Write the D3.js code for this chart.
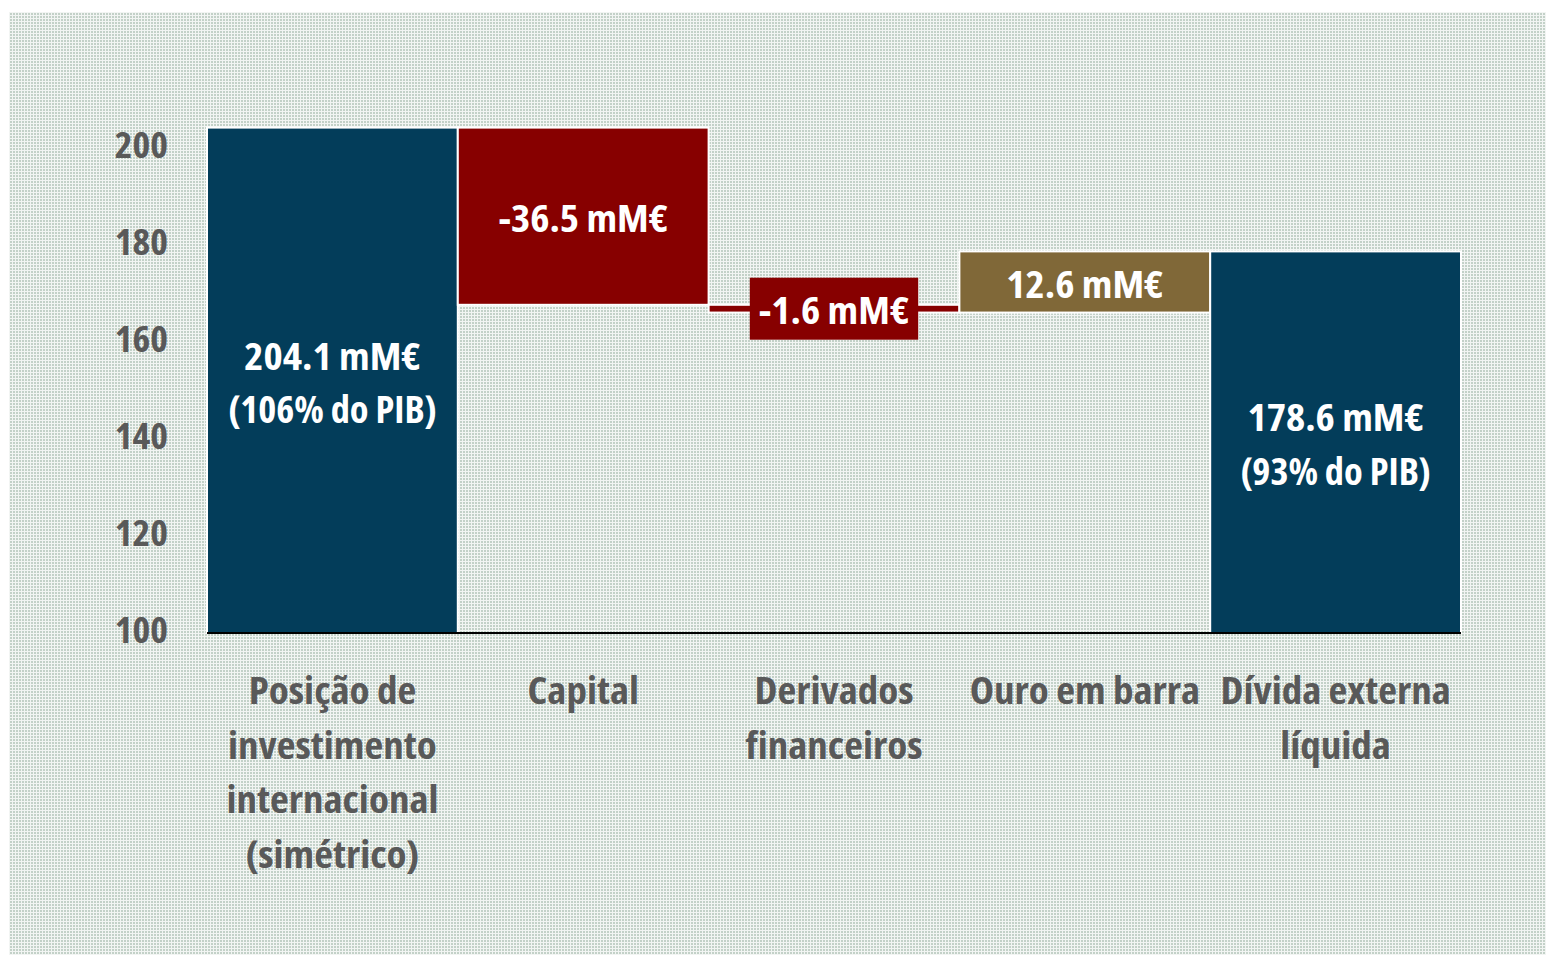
<!DOCTYPE html>
<html>
<head>
<meta charset="utf-8">
<script src="https://cdn.jsdelivr.net/npm/d3@7"></script>
<style>
  body { margin: 0; background: #fff; }
  text { font-family: "Open Sans", "Liberation Sans Narrow", sans-serif; font-weight: 700; font-stretch: 75%; }
</style>
</head>
<body>
<div class="chart"></div>
<script>
var svgWidth = 1546;
var svgHeight = 957;

// data
var categories = [
  ["Posição de", "investimento", "internacional", "(simétrico)"],
  ["Capital"],
  ["Derivados", "financeiros"],
  ["Ouro em barra"],
  ["Dívida externa", "líquida"]
];
var values = [204.1, -36.5, -1.6, 12.6, 178.6];
var kinds = ["total", "down", "down", "up", "total"];
var barLabels = [
  ["204.1 mM€", "(106% do PIB)"],
  ["-36.5 mM€"],
  ["-1.6 mM€"],
  ["12.6 mM€"],
  ["178.6 mM€", "(93% do PIB)"]
];
var yTicks = [100, 120, 140, 160, 180, 200];

var colors = { total: "#033d5a", down: "#870000", up: "#806838" };

// font is a bit wider than the installed condensed face
var sx = 1.08;

// waterfall start/end
var running = 0;
var bars = values.map(function(v, i) {
  var b;
  if (kinds[i] === "total") {
    b = { y0: 100, y1: v };
    running = v;
  } else {
    b = { y0: running, y1: running + v };
    running = running + v;
  }
  b.i = i;
  b.kind = kinds[i];
  return b;
});

var svg = d3.select(".chart").append("svg")
  .attr("width", svgWidth)
  .attr("height", svgHeight);

// background grid texture
var pat = svg.append("defs").append("pattern")
  .attr("id", "grid")
  .attr("width", 3).attr("height", 3)
  .attr("patternUnits", "userSpaceOnUse");
pat.append("rect").attr("width", 3).attr("height", 3).attr("fill", "#c3d1c8");
pat.append("rect").attr("width", 3).attr("height", 1).attr("fill", "#f2f5f3");
pat.append("rect").attr("width", 1).attr("height", 3).attr("fill", "#f2f5f3");

svg.append("rect")
  .attr("x", 9).attr("y", 12)
  .attr("width", svgWidth - 9).attr("height", 943)
  .attr("fill", "url(#grid)");

var x = d3.scaleBand()
  .domain(d3.range(categories.length))
  .range([207, 1461])
  .padding(0);

var y = d3.scaleLinear()
  .domain([100, 200])
  .range([633, 147.5]);

// y tick labels
svg.append("g").selectAll("text")
  .data(yTicks)
  .enter()
  .append("text")
  .attr("transform", d => `translate(168, ${y(d) - 2}) scale(${sx}, 1)`)
  .attr("dy", "0.35em")
  .attr("text-anchor", "end")
  .attr("fill", "#595959")
  .attr("font-size", 35)
  .text(d => d);

// bars
svg.append("g").selectAll("rect")
  .data(bars)
  .enter()
  .append("rect")
  .attr("x", d => x(d.i))
  .attr("width", x.bandwidth())
  .attr("y", d => y(Math.max(d.y0, d.y1)))
  .attr("height", d => Math.abs(y(d.y0) - y(d.y1)))
  .attr("fill", d => colors[d.kind])
  .attr("stroke", "#ffffff")
  .attr("stroke-width", 2);

// baseline
svg.append("line")
  .attr("x1", x(0)).attr("x2", x(categories.length - 1) + x.bandwidth())
  .attr("y1", y(100)).attr("y2", y(100))
  .attr("stroke", "#000")
  .attr("stroke-width", 2);

// value labels inside bars (one text per line, second line is narrower)
var lineH = 53;
bars.forEach(function(d) {
  var lines = barLabels[d.i];
  var cx = x(d.i) + x.bandwidth() / 2;
  var cy = (y(d.y0) + y(d.y1)) / 2;
  var g = svg.append("g");
  var firstW = 0;
  lines.forEach(function(l, k) {
    var s = k === 0 ? sx : 1.01;
    var ly = cy + 2.5 + (k - (lines.length - 1) / 2) * lineH;
    var t = g.append("text")
      .attr("transform", `translate(${cx}, ${ly}) scale(${s}, 1)`)
      .attr("dy", "0.35em")
      .attr("text-anchor", "middle")
      .attr("fill", "#ffffff")
      .attr("font-size", 38)
      .text(l);
    if (k === 0) firstW = t.node().getComputedTextLength() * s;
  });
  // thin bar gets a label box
  if (Math.abs(y(d.y0) - y(d.y1)) < 40) {
    g.insert("rect", "text")
      .attr("x", cx - firstW / 2 - 9)
      .attr("y", cy - 31)
      .attr("width", firstW + 18)
      .attr("height", 62)
      .attr("fill", colors[d.kind]);
  }
});

// category labels
var catLineH = 54.5;
svg.append("g").selectAll("text")
  .data(categories)
  .enter()
  .append("text")
  .attr("transform", (d, i) => `translate(${x(i) + x.bandwidth() / 2}, 691) scale(${sx}, 1)`)
  .attr("text-anchor", "middle")
  .attr("fill", "#595959")
  .attr("font-size", 38)
  .each(function(lines) {
    var t = d3.select(this);
    lines.forEach(function(l, k) {
      t.append("tspan")
        .attr("x", 0)
        .attr("y", k * catLineH)
        .attr("dy", "0.35em")
        .text(l);
    });
  });
</script>
</body>
</html>
